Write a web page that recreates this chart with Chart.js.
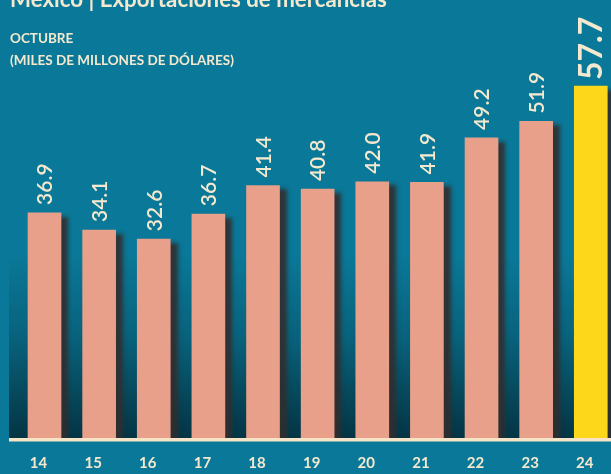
<!DOCTYPE html>
<html>
<head>
<meta charset="utf-8">
<script src="https://cdn.jsdelivr.net/npm/chart.js@4.4.1/dist/chart.umd.min.js"></script>
<style>
html,body{margin:0;padding:0;background:#0a7898;overflow:hidden;width:611px;height:474px;}
#wrap{position:absolute;left:0;top:0;width:630px;height:474px;}
</style>
</head>
<body>
<div id="wrap"><canvas id="c" width="630" height="474"></canvas></div>
<script>
const titleText = "México | Exportaciones de mercancías";
const subtitle1 = "OCTUBRE";
const subtitle2 = "(MILES DE MILLONES DE DÓLARES)";
const years = ["14","15","16","17","18","19","20","21","22","23","24"];
const exportsValues = [36.9, 34.1, 32.6, 36.7, 41.4, 40.8, 42.0, 41.9, 49.2, 51.9, 57.7];
const valueLabels = ["36.9","34.1","32.6","36.7","41.4","40.8","42.0","41.9","49.2","51.9","57.7"];

const CREAM = "#f4e9cf";
const TEAL = "#0a7898";
const SALMON = "#e8a08b";
const YELLOW = "#fdd719";

const bgPlugin = {
  id: "bg",
  beforeDraw(chart) {
    const ctx = chart.ctx;
    const W = chart.width, H = chart.height;
    ctx.save();
    ctx.fillStyle = TEAL;
    ctx.fillRect(0, 0, W, H);
    const bottom = chart.chartArea.bottom;
    const g = ctx.createLinearGradient(0, 255, 0, bottom);
    g.addColorStop(0, "rgba(10,120,152,1)");
    g.addColorStop(0.45, "#08627c");
    g.addColorStop(0.8, "#064558");
    g.addColorStop(1, "#043545");
    ctx.fillStyle = g;
    ctx.fillRect(9, 255, W - 9, bottom - 255);
    // titles
    ctx.fillStyle = CREAM;
    ctx.textBaseline = "alphabetic";
    ctx.textAlign = "left";
    let fs = 22;
    ctx.font = "bold " + fs + "px Lato";
    const w = ctx.measureText(titleText).width;
    fs = fs * 377 / w;
    ctx.font = "bold " + fs.toFixed(2) + "px Lato";
    ctx.fillText(titleText, 10, 7);
    ctx.font = "bold 13.5px Lato";
    ctx.fillText(subtitle1, 10, 43);
    ctx.fillText(subtitle2, 10, 65);
    ctx.restore();
  }
};

const shadowPlugin = {
  id: "shadow",
  beforeDatasetsDraw(chart) {
    const ctx = chart.ctx;
    ctx.save();
    ctx.shadowColor = "rgba(50,46,46,0.9)";
    ctx.shadowOffsetX = 7;
    ctx.shadowOffsetY = 4;
    ctx.shadowBlur = 4;
  },
  afterDatasetsDraw(chart) {
    const ctx = chart.ctx;
    ctx.restore();
    // baseline
    ctx.save();
    ctx.fillStyle = "#f7e4c6";
    ctx.fillRect(9, chart.chartArea.bottom, chart.width, 3.5);
    // value labels
    const meta = chart.getDatasetMeta(0);
    meta.data.forEach((bar, i) => {
      const last = i === meta.data.length - 1;
      ctx.save();
      ctx.translate(bar.x, bar.y - (last ? 6 : 8));
      ctx.rotate(-Math.PI / 2);
      ctx.textAlign = "left";
      ctx.textBaseline = "middle";
      ctx.fillStyle = CREAM;
      ctx.font = last ? "bold 32px Lato" : "600 21px Lato";
      ctx.fillText(valueLabels[i], 0, 1);
      ctx.restore();
    });
    ctx.restore();
  }
};

new Chart(document.getElementById("c"), {
  type: "bar",
  data: {
    labels: years,
    datasets: [{
      data: exportsValues,
      backgroundColor: exportsValues.map((v, i) => i === exportsValues.length - 1 ? YELLOW : SALMON),
      barThickness: 33,
      borderWidth: 0
    }]
  },
  options: {
    responsive: false,
    animation: false,
    events: [],
    layout: { padding: { left: 17.2, right: 11.9, top: 11, bottom: 0 } },
    plugins: { legend: { display: false }, tooltip: { enabled: false } },
    scales: {
      x: {
        type: "category",
        offset: true,
        grid: { display: false },
        border: { display: false },
        ticks: { color: CREAM, font: { family: "Lato", size: 15, weight: "bold" }, padding: 8, maxRotation: 0, labelOffset: -6 },
        afterFit(s) { s.height = 36; }
      },
      y: { display: false, min: 0, max: 70 }
    }
  },
  plugins: [bgPlugin, shadowPlugin]
});
</script>
</body>
</html>
